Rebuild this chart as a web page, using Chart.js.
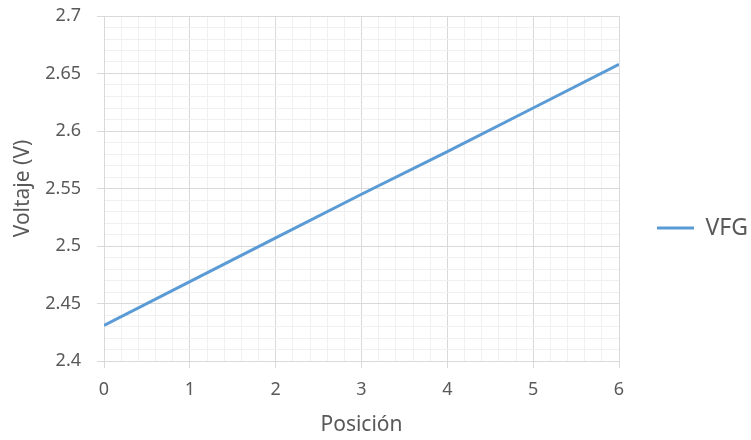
<!DOCTYPE html>
<html>
<head>
<meta charset="utf-8">
<script src="https://cdn.jsdelivr.net/npm/chart.js@4"></script>
<style>
  html, body { margin: 0; padding: 0; background: #ffffff; }
  #wrap { width: 751px; height: 440px; }
</style>
</head>
<body>
<div id="wrap"><canvas id="grafica"></canvas></div>
<script>
// Datos
const posiciones = [0, 1, 2, 3, 4, 5, 6];
const vfg = [2.431, 2.469, 2.507, 2.545, 2.582, 2.620, 2.658];
const xTicks = ['0', '1', '2', '3', '4', '5', '6'];
const yTicks = ['2.4', '2.45', '2.5', '2.55', '2.6', '2.65', '2.7'];

const mayor = '#d9d9d9';
const menor = '#f0f0f0';
const texto = '#595959';

Chart.defaults.font.family = "'Noto Sans', sans-serif";
Chart.defaults.color = texto;

// es linea mayor? (x cada 1, y cada 0.05)
function esMayorX(v) { return Math.abs(v - Math.round(v)) < 1e-6; }
function esMayorY(v) { return Math.abs(v * 20 - Math.round(v * 20)) < 1e-6; }

const ctx = document.getElementById('grafica').getContext('2d');
const grafica = new Chart(ctx, {
    type: 'line',
    data: {
        datasets: [{
            label: 'VFG',
            data: posiciones.map((p, i) => ({ x: p, y: vfg[i] })),
            borderColor: '#5b9bd5',
            backgroundColor: '#5b9bd5',
            borderWidth: 3,
            pointRadius: 0,
            tension: 0
        }]
    },
    options: {
        responsive: true,
        maintainAspectRatio: false,
        animation: false,
        layout: { padding: { top: 16, right: 0, bottom: 0, left: 0 } },
        plugins: {
            tooltip: { enabled: false },
            legend: {
                position: 'right',
                maxWidth: 132,
                labels: {
                    usePointStyle: true,
                    pointStyle: 'line',
                    pointStyleWidth: 37,
                    padding: 38,
                    color: texto,
                    font: { size: 23 }
                }
            }
        },
        scales: {
            x: {
                type: 'linear',
                min: 0,
                max: 6,
                afterFit: (scale) => { scale.height = 79; },
                ticks: {
                    stepSize: 0.2,
                    autoSkip: false,
                    maxRotation: 0,
                    padding: 11,
                    font: { size: 18 },
                    callback: (v) => esMayorX(v) ? xTicks[Math.round(v)] : ''
                },
                grid: {
                    color: (c) => esMayorX(c.tick.value) ? mayor : menor,
                    tickColor: (c) => esMayorX(c.tick.value) ? mayor : 'rgba(0,0,0,0)',
                    tickLength: 7,
                    lineWidth: 1
                },
                border: { color: mayor, width: 1 },
                title: {
                    display: true,
                    text: 'Posición',
                    color: texto,
                    font: { size: 21 },
                    padding: { top: 0, bottom: 2 }
                }
            },
            y: {
                min: 2.4,
                max: 2.7,
                afterFit: (scale) => {
                    scale.width = 104;
                    // sin margen extra arriba/abajo por las etiquetas
                    scale.paddingTop = 0;
                    scale.paddingBottom = 0;
                },
                ticks: {
                    stepSize: 0.01,
                    autoSkip: false,
                    padding: 16,
                    font: { size: 18 },
                    callback: (v) => esMayorY(v) ? yTicks[Math.round((v - 2.4) * 20)] : ''
                },
                grid: {
                    color: (c) => esMayorY(c.tick.value) ? mayor : menor,
                    tickColor: (c) => esMayorY(c.tick.value) ? mayor : 'rgba(0,0,0,0)',
                    tickLength: 7,
                    lineWidth: 1
                },
                border: { color: mayor, width: 1 },
                title: {
                    display: true,
                    text: 'Voltaje (V)',
                    color: texto,
                    font: { size: 21 },
                    padding: { top: 10, bottom: 0 }
                }
            }
        }
    }
});
</script>
</body>
</html>
